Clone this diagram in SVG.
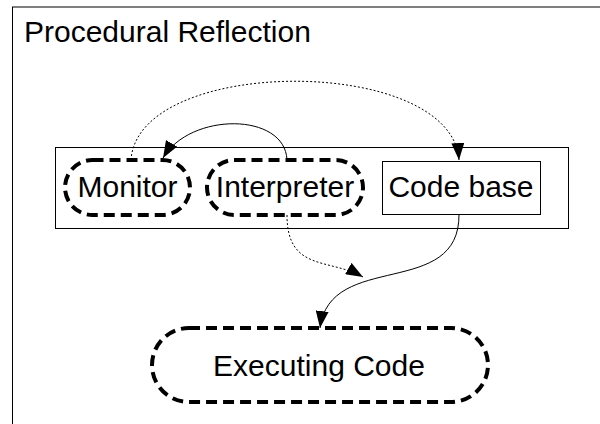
<svg xmlns="http://www.w3.org/2000/svg" width="600" height="424" viewBox="0 0 600 424">
  <style>
    text { font-family: "Liberation Sans", Arial, sans-serif; font-size: 30px; fill: #000; }
    .label { text-anchor: middle; }
    .frame { fill: none; stroke: #000; stroke-width: 1; }
    .pill { fill: none; stroke: #000; stroke-width: 4; stroke-dasharray: 11 6; }
    .flow { fill: none; stroke: #000; stroke-width: 1; }
    .dotted { stroke-dasharray: 2 2; }
  </style>
  <defs>
    <marker id="arrow" viewBox="0 0 17 13" refX="17" refY="6.5" markerWidth="17" markerHeight="13" markerUnits="userSpaceOnUse" orient="auto">
      <path d="M0,0 L17,6.5 L0,13 Z" fill="#000"/>
    </marker>
  </defs>

  <rect fill="#fff" width="600" height="424"/>

  <!-- outer frame with title -->
  <g id="frame">
    <rect class="frame" x="12.5" y="7" width="600" height="430"/>
    <text x="24" y="42">Procedural Reflection</text>
  </g>

  <!-- container holding the three components -->
  <g id="system">
    <rect class="frame" x="55.5" y="147.5" width="513" height="81"/>
  </g>

  <g id="monitor">
    <rect class="pill" x="65" y="160" width="125" height="55" rx="27.5"/>
    <text class="label" x="127.5" y="197">Monitor</text>
  </g>

  <g id="interpreter">
    <rect class="pill" x="207" y="160" width="156" height="55" rx="27.5"/>
    <text class="label" x="285" y="197">Interpreter</text>
  </g>

  <g id="codebase">
    <rect class="frame" x="382.5" y="161.5" width="158" height="53"/>
    <text class="label" x="461" y="197">Code base</text>
  </g>

  <g id="executing">
    <rect class="pill" x="152" y="328" width="336" height="74" rx="37"/>
    <text class="label" x="319" y="376">Executing Code</text>
  </g>

  <!-- connectors -->
  <g id="connectors">
    <path class="flow dotted" d="M131,160 C138,55 452,55 459,160" marker-end="url(#arrow)"/>
    <path class="flow" d="M287,160 C285,112 190,112 163,158" marker-end="url(#arrow)"/>
    <path class="flow dotted" d="M287,215 C287,272 330,258 363,277" marker-end="url(#arrow)"/>
    <path class="flow" d="M459,214 C460,300 330,250 320,328" marker-end="url(#arrow)"/>
  </g>
</svg>
